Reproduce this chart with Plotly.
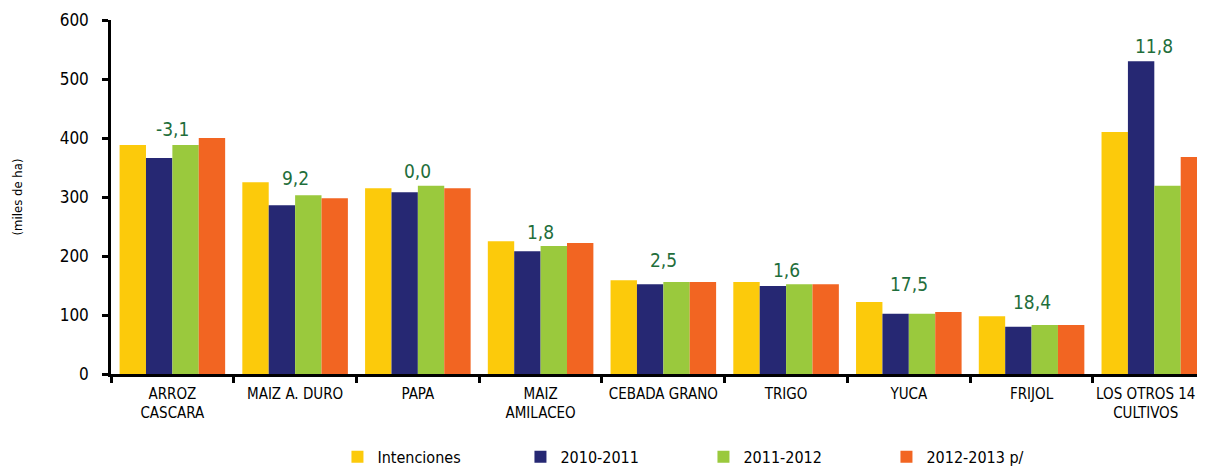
import plotly.graph_objects as go

categories = ["ARROZ CASCARA", "MAIZ A. DURO", "PAPA", "MAIZ AMILACEO", "CEBADA GRANO",
              "TRIGO", "YUCA", "FRIJOL", "LOS OTROS 14 CULTIVOS"]
tick_labels = ["ARROZ<br>CASCARA", "MAIZ A. DURO", "PAPA", "MAIZ<br>AMILACEO", "CEBADA GRANO",
               "TRIGO", "YUCA", "FRIJOL",
               "LOS OTROS 14&nbsp;&nbsp;&nbsp;&nbsp;<br>CULTIVOS&nbsp;&nbsp;&nbsp;&nbsp;"]
intenciones = [388, 325, 315, 225, 159, 156, 122, 98, 410]
s2010_2011 = [366, 286, 308, 208, 152, 149, 102, 80, 530]
s2011_2012 = [388, 303, 319, 217, 156, 152, 102, 83, 319]
s2012_2013 = [400, 298, 315, 222, 156, 152, 105, 83, 368]
var_labels = ["-3,1", "9,2", "0,0", "1,8", "2,5", "1,6", "17,5", "18,4", "11,8"]
label_y = [415, 332, 344, 241, 193, 176, 153, 122, 556]

series = [
    ("Intenciones", intenciones, "#FCCA0B"),
    ("2010-2011", s2010_2011, "#262873"),
    ("2011-2012", s2011_2012, "#9AC93D"),
    ("2012-2013 p/", s2012_2013, "#F26522"),
]

FONT = "DejaVu Sans Condensed, sans-serif"

fig = go.Figure()
for name, vals, col in series:
    fig.add_trace(go.Bar(x=categories, y=vals, name=name, marker_color=col,
                         marker_line_width=0))

for c, t, yv in zip(categories, var_labels, label_y):
    fig.add_annotation(x=c, y=yv, text=t, showarrow=False, yanchor="middle",
                       font=dict(family=FONT, size=19, color="#1F6E3B"))

fig.update_layout(
    width=1197, height=459,
    margin=dict(l=103, r=0, t=12, b=93, autoexpand=False),
    paper_bgcolor="white", plot_bgcolor="white",
    barmode="group", bargap=0.14, bargroupgap=0,
    font=dict(family=FONT, color="black"),
    showlegend=True,
    legend=dict(orientation="h", x=0.207, xanchor="left", y=-0.234, yanchor="middle",
                entrywidth=138, entrywidthmode="pixels",
                font=dict(family=FONT, size=16, color="black"),
                itemsizing="constant", traceorder="normal"),
    xaxis=dict(range=[-0.5, 8.413], showline=True, linecolor="black", linewidth=2.5,
               tickmode="array", tickvals=categories, ticktext=tick_labels, tickangle=0,
               ticks="outside", tickson="boundaries", ticklen=6, tickwidth=2.5,
               tickcolor="black", showgrid=False, automargin=False, ticklabelstandoff=4,
               tickfont=dict(family=FONT, size=15, color="black")),
    yaxis=dict(range=[0, 600], dtick=100, showline=True, linecolor="black", linewidth=2.5,
               ticks="outside", ticklen=6, tickwidth=2.5, tickcolor="black",
               showgrid=False, zeroline=False, automargin=False, ticklabelstandoff=10,
               tickfont=dict(family=FONT, size=17, color="black"),
               title=dict(text="(miles de ha)", standoff=35,
                          font=dict(family=FONT, size=13, color="black"))),
)

fig.write_html("out.html")
